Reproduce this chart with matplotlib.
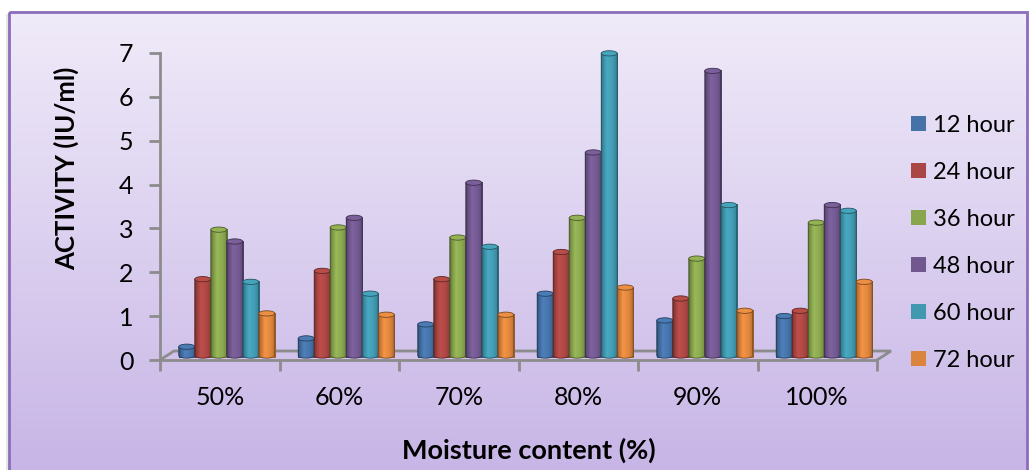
import numpy as np
import matplotlib
matplotlib.use("Agg")
import matplotlib.pyplot as plt
from matplotlib.patches import Polygon, Ellipse, Rectangle, Patch
from matplotlib.colors import to_rgb

plt.rcParams['font.family'] = ['Lato', 'DejaVu Sans']

# ---- data ----
categories = ["50%", "60%", "70%", "80%", "90%", "100%"]
series_names = ["12 hour", "24 hour", "36 hour", "48 hour", "60 hour", "72 hour"]
h12 = [0.20, 0.39, 0.71, 1.41, 0.80, 0.90]
h24 = [1.74, 1.93, 1.74, 2.36, 1.30, 1.02]
h36 = [2.87, 2.92, 2.69, 3.14, 2.21, 3.03]
h48 = [2.60, 3.14, 3.94, 4.63, 6.49, 3.43]
h60 = [1.68, 1.41, 2.48, 6.89, 3.43, 3.30]
h72 = [0.96, 0.93, 0.93, 1.55, 1.02, 1.68]
series_values = [h12, h24, h36, h48, h60, h72]
series_colors = ['#4572A7', '#AA4643', '#89A54E', '#71588F', '#4198AF', '#DB843D']
y_ticks = [0, 1, 2, 3, 4, 5, 6, 7]

W, H = 1029, 470
fig = plt.figure(figsize=(W / 100, H / 100), dpi=100)
fig.patch.set_facecolor('white')

# ---- chart area background: vertical lavender gradient with border ----
bg = fig.add_axes([0, 0, 1, 1])
bg.set_xlim(0, W)
bg.set_ylim(H, 0)
bg.axis('off')
top_c = np.array([240, 235, 249]) / 255
bot_c = np.array([199, 181, 230]) / 255
t = np.linspace(0, 1, 256)[:, None, None]
grad = top_c * (1 - t) + bot_c * t
grad = np.repeat(grad, 2, axis=1)
bx0, bx1, by0, by1 = 9, 1027, 12, 472
bg.add_patch(Rectangle((bx0 - 3, by0 + 2), bx1 - bx0, by1 - by0,
                       facecolor='#d5d5d5', edgecolor='none', alpha=0.6, zorder=-1))
bg.imshow(grad, extent=[bx0, bx1, by1, by0], aspect='auto',
          interpolation='bilinear', zorder=0)
bg.add_patch(Rectangle((bx0, by0), bx1 - bx0, by1 - by0, facecolor='none',
                       edgecolor='#8B6DBB', lw=2, zorder=2))

# ---- plot axes ----
ax = fig.add_axes([160 / W, 110 / H, 717 / W, 307 / H])
ax.patch.set_alpha(0)
ncat = len(categories)
dx, dy = 0.117, 0.205          # depth offset of the floor
grey = '#8C8C8C'

# floor outline
ax.plot([0, dx, ncat + dx, ncat], [0, dy, dy, 0], color=grey, lw=2,
        clip_on=False, zorder=1, solid_joinstyle='miter')

shade_t = [0.0, 0.08, 0.35, 0.70, 0.92, 1.0]
shade_f = [0.62, 0.85, 1.12, 1.02, 0.86, 0.70]
prof = np.interp(np.linspace(0, 1, 64), shade_t, shade_f)


def cylinder(xc, w, y0, h, color, z):
    base = np.array(to_rgb(color))
    img = np.clip(base[None, None, :] * prof[None, :, None], 0, 1)
    ey = 0.06
    x0, x1 = xc - w / 2, xc + w / 2
    im = ax.imshow(img, extent=[x0, x1, y0 - ey, y0 + h], aspect='auto',
                   interpolation='bilinear', zorder=z, clip_on=False)
    a = np.linspace(np.pi, 2 * np.pi, 40)
    pts = np.column_stack([xc + w / 2 * np.cos(a), y0 + ey * np.sin(a)])
    pts = np.vstack([pts, [[x1, y0 + h], [x0, y0 + h]]])
    edge = np.clip(base * 0.55, 0, 1)
    body = Polygon(pts, closed=True, facecolor='none', edgecolor=edge, lw=0.6,
                   zorder=z + 0.1, clip_on=False)
    ax.add_patch(body)
    im.set_clip_path(body)
    ax.add_patch(Ellipse((xc, y0 + h), w, 2 * ey,
                         facecolor=np.clip(base * 1.08, 0, 1), edgecolor=edge,
                         lw=0.6, zorder=z + 0.2, clip_on=False))


bw = 0.134
nser = len(series_values)
for i in range(ncat):
    for k in range(nser):
        xc = i + 0.5 + dx / 2 + (k - (nser - 1) / 2) * bw
        cylinder(xc, bw, dy / 2, series_values[k][i], series_colors[k], 3 + k)

ax.set_xlim(0, ncat)
ax.set_ylim(0, 7)

# axes, ticks and labels
for s in ['top', 'right']:
    ax.spines[s].set_visible(False)
for s in ['left', 'bottom']:
    ax.spines[s].set_color(grey)
    ax.spines[s].set_linewidth(2)
ax.set_yticks(y_ticks)
ax.set_yticklabels([str(v) for v in y_ticks])
ax.set_xticks(np.arange(ncat + 1))
ax.set_xticklabels([])
ax.set_xticks(np.arange(ncat) + 0.5, minor=True)
ax.set_xticklabels(categories, minor=True)
ax.tick_params(axis='y', which='major', length=8, width=2, color=grey,
               labelsize=18, pad=11)
ax.tick_params(axis='x', which='major', length=8, width=2, color=grey)
ax.tick_params(axis='x', which='minor', length=0, labelsize=18, pad=19)

ax.set_ylabel("ACTIVITY (IU/ml)", fontsize=18.5, fontweight='bold', va='center')
ax.yaxis.set_label_coords((66 - 160) / 717, (360 - 168) / 307)
ax.set_xlabel("Moisture content (%)", fontsize=19.5, fontweight='bold', va='center')
ax.xaxis.set_label_coords((529 - 160) / 717, (360 - 450) / 307)

handles = [Patch(facecolor=c, edgecolor='none') for c in series_colors]
fig.legend(handles, series_names, loc='center left',
           bbox_to_anchor=(911 / W, 1 - 243 / H), frameon=False,
           fontsize=17, handlelength=0.63, handleheight=0.63,
           handletextpad=0.3, labelspacing=1.1, borderaxespad=0, borderpad=0)

fig.savefig("out.png", dpi=100)
